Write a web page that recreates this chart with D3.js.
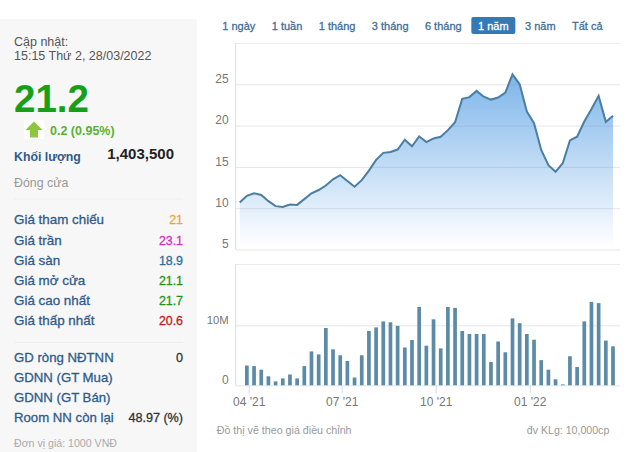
<!DOCTYPE html>
<html>
<head>
<meta charset="utf-8">
<script src="https://cdn.jsdelivr.net/npm/d3@7"></script>
<style>
html, body { margin: 0; padding: 0; background: #fff; }
svg { display: block; font-family: "Liberation Sans", Arial, sans-serif; }
</style>
</head>
<body>
<svg id="chart" width="640" height="452"></svg>
<script>
var rangeLabels = ["1 ngày", "1 tuần", "1 tháng", "3 tháng", "6 tháng", "1 năm", "3 năm", "Tất cả"];
var activeRange = "1 năm";

var priceTicks = [5, 10, 15, 20, 25];
var volumeTicks = [0, 10];
var dateTickWeeks = [1.25, 14.2, 27.3, 40.4];
var dateTickLabels = ["04 '21", "07 '21", "10 '21", "01 '22"];

// gia theo tuan, doc tu hinh
var prices = [10.7, 11.5, 11.8, 11.6, 10.85, 10.25, 10.15, 10.45, 10.4, 11.1, 11.8, 12.2, 12.75,
    13.5, 14.0, 13.3, 12.6, 13.4, 14.55, 15.85, 16.7, 16.8, 17.1, 18.3, 17.5, 18.7,
    18.0, 18.45, 18.65, 19.45, 20.4, 23.25, 23.45, 24.2, 23.5, 23.15, 23.4, 24.0, 26.2,
    25.0, 21.7, 20.3, 17.05, 15.2, 14.4, 15.45, 18.2, 18.65, 20.5, 22.0, 23.6, 20.45, 21.2];

// khoi luong (trieu), tuan dau khong co cot
var volumes = [3.3, 3.2, 2.6, 1.5, 0.65, 1.15, 1.8, 1.15, 3.2, 5.65, 5.15, 9.55, 6.0, 5.0, 4.05, 1.3,
    5.0, 9.05, 9.65, 10.65, 10.5, 9.9, 6.3, 7.55, 13.05, 6.6, 11.0, 6.15, 13.05, 12.9, 9.05, 8.55,
    8.55, 8.55, 3.9, 7.3, 5.5, 11.15, 10.35, 8.55, 7.6, 4.2, 2.6, 1.0, 0.15, 4.85, 3.05, 10.65,
    13.9, 13.7, 7.45, 6.5];

var priceLabels = ["Giá tham chiếu", "Giá trần", "Giá sàn", "Giá mở cửa", "Giá cao nhất", "Giá thấp nhất"];
var priceValues = ["21", "23.1", "18.9", "21.1", "21.7", "20.6"];
var priceColors = ["#f0a33a", "#d02fc4", "#2b6f9c", "#1d9420", "#1d9420", "#c01a1a"];
var foreignLabels = ["GD ròng NĐTNN", "GDNN (GT Mua)", "GDNN (GT Bán)", "Room NN còn lại"];
var foreignValues = ["0", "", "", "48.97 (%)"];

var svg = d3.select("#chart");

// ---- cot trai ----
svg.append("rect").attr("x", 0).attr("y", 19).attr("width", 197).attr("height", 433).attr("fill", "#f7f7f7");

function label(x, y, txt, size, color, weight, anchor) {
    return svg.append("text")
        .attr("x", x)
        .attr("y", y)
        .attr("font-size", size)
        .attr("fill", color)
        .attr("font-weight", weight || "normal")
        .attr("text-anchor", anchor || "start")
        .text(txt);
}

// chu hoi dam, giua normal va bold
function medium(x, y, txt, size, color, anchor) {
    return label(x, y, txt, size, color, "normal", anchor)
        .attr("stroke", color)
        .attr("stroke-width", 0.3);
}

label(14, 45.5, "Cập nhật:", 12.5, "#555");
label(14, 60, "15:15 Thứ 2, 28/03/2022", 12.5, "#555");
label(14, 111.5, "21.2", 38.5, "#17a017", "bold");

svg.append("rect").attr("x", 24).attr("y", 120).attr("width", 20).attr("height", 19).attr("fill", "#fff");
svg.append("path")
    .attr("d", d3.line()([[34, 121.5], [42.5, 130], [38, 130], [38, 137.5], [30, 137.5], [30, 130], [25.5, 130]]) + "Z")
    .attr("fill", "#8cc63f");

label(50, 134.5, "0.2 (0.95%)", 12.5, "#57b332", "bold");
label(14, 160.5, "Khối lượng", 12.3, "#2f5b8c", "bold");
label(174, 159, "1,403,500", 15, "#222", "bold", "end");
label(14, 186.5, "Đóng cửa", 12.4, "#999");

svg.append("line").attr("x1", 14).attr("x2", 183).attr("y1", 199).attr("y2", 199).attr("stroke", "#eee");
svg.append("line").attr("x1", 14).attr("x2", 183).attr("y1", 342.5).attr("y2", 342.5).attr("stroke", "#eee");

priceLabels.forEach(function (d, i) {
    medium(14, 224.3 + i * 20.2, d, 13.4, "#2f5b8c");
    medium(183, 224.3 + i * 20.2, priceValues[i], 12.4, priceColors[i], "end");
});
foreignLabels.forEach(function (d, i) {
    medium(14, 361.7 + i * 20.2, d, 13.2, "#2f5b8c");
    medium(183, 361.7 + i * 20.2, foreignValues[i], 12.6, "#333", "end");
});
label(14, 447, "Đơn vị giá: 1000 VNĐ", 10.6, "#aaa");

// ---- nut chon khoang thoi gian ----
var nextX = 222.3;
rangeLabels.forEach(function (d) {
    var active = d == activeRange;
    var box = svg.append("rect").attr("y", 17).attr("height", 17).attr("rx", 2).attr("fill", active ? "#337ab7" : "none");
    var t = medium(nextX, 30, d, 11, active ? "#fff" : "#3f6f98");
    var w = t.node().getComputedTextLength();
    if (active) box.attr("x", nextX - 6.7).attr("width", w + 13.4);
    nextX += w + 16.4;
});

// ---- bieu do ----
var plotLeft = 235.7, plotRight = 620;
var x = d3.scaleLinear().domain([0, prices.length - 1]).range([239.7, 613]);
var yPrice = d3.scaleLinear().domain([5, 25]).range([249.5, 84.3]);
var yVol = d3.scaleLinear().domain([0, 10]).range([385.3, 325.3]);

var defs = svg.append("defs");
var grad = defs.append("linearGradient").attr("id", "areaFill")
    .attr("gradientUnits", "userSpaceOnUse")
    .attr("x1", 0).attr("x2", 0).attr("y1", yPrice(26.2)).attr("y2", yPrice(5.3));
grad.append("stop").attr("offset", "0%").attr("stop-color", "#7db5ea");
grad.append("stop").attr("offset", "100%").attr("stop-color", "#ffffff");

var area = d3.area().x(function (d, i) { return x(i); }).y0(yPrice(5)).y1(function (d) { return yPrice(d); });
var line = d3.line().x(function (d, i) { return x(i); }).y(function (d) { return yPrice(d); });

svg.append("path").datum(prices).attr("d", area).attr("fill", "url(#areaFill)");

var gPrice = svg.append("g").attr("transform", "translate(" + plotLeft + ",0)")
    .call(d3.axisLeft(yPrice).tickValues(priceTicks).tickSize(-(plotRight - plotLeft)).tickPadding(7));
gPrice.select(".domain").remove();
gPrice.selectAll(".tick line").attr("stroke", "#7f8c99").attr("stroke-opacity", 0.22);
gPrice.selectAll(".tick text").attr("font-size", 12).attr("font-family", "inherit").attr("fill", "#777").attr("dy", "-0.15em");

svg.append("path").datum(prices).attr("d", line).attr("fill", "none").attr("stroke", "#4a7ea3").attr("stroke-width", 2);

// khung
svg.append("line").attr("x1", plotLeft).attr("x2", plotRight).attr("y1", 43.5).attr("y2", 43.5).attr("stroke", "#eaeaea");
svg.append("line").attr("x1", plotLeft).attr("x2", plotLeft).attr("y1", 43).attr("y2", 249.5).attr("stroke", "#d5dde6");
svg.append("line").attr("x1", plotLeft).attr("x2", plotRight).attr("y1", 264.5).attr("y2", 264.5).attr("stroke", "#eaeaea");
svg.append("line").attr("x1", plotLeft).attr("x2", plotLeft).attr("y1", 264).attr("y2", 385.3).attr("stroke", "#d5dde6");

var gVol = svg.append("g").attr("transform", "translate(" + plotLeft + ",0)")
    .call(d3.axisLeft(yVol).tickValues(volumeTicks).tickSize(-(plotRight - plotLeft)).tickPadding(7)
        .tickFormat(function (d) { return d == 0 ? "0" : d + "M"; }));
gVol.select(".domain").remove();
gVol.selectAll(".tick line").attr("stroke", "#7f8c99").attr("stroke-opacity", 0.22);
gVol.selectAll(".tick text").attr("font-size", 12).attr("font-family", "inherit").attr("fill", "#777").attr("dy", "-0.15em");
gVol.selectAll(".tick text").filter(function (d) { return d == 10; }).attr("font-size", 11.3);

svg.append("g").selectAll("rect").data(volumes).enter().append("rect")
    .attr("x", function (d, i) { return x(i + 1) - 1.85; })
    .attr("width", 3.7)
    .attr("y", function (d) { return yVol(d); })
    .attr("height", function (d) { return yVol(0) - yVol(d); })
    .attr("fill", "#5b8ba6");

var gDate = svg.append("g").attr("transform", "translate(0,385.3)")
    .call(d3.axisBottom(x).tickValues(dateTickWeeks).tickSize(8).tickPadding(4)
        .tickFormat(function (d, i) { return dateTickLabels[i]; }));
gDate.select(".domain").remove();
gDate.selectAll(".tick line").attr("stroke", "#d5dde6");
gDate.selectAll(".tick text").attr("font-size", 12).attr("font-family", "inherit").attr("fill", "#777");

label(216.7, 434, "Đồ thị vẽ theo giá điều chỉnh", 10.7, "#999");
label(609.3, 434, "đv KLg: 10,000cp", 10.6, "#999", "normal", "end");
</script>
</body>
</html>
